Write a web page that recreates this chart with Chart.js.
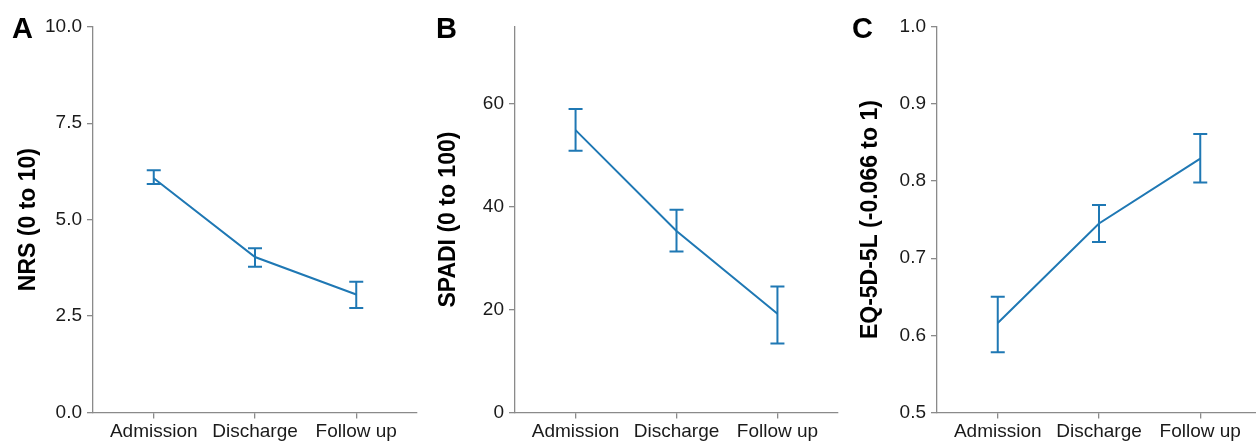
<!DOCTYPE html>
<html>
<head>
<meta charset="utf-8">
<script src="https://cdn.jsdelivr.net/npm/chart.js@4.4.1/dist/chart.umd.min.js"></script>
<style>
  html, body { margin: 0; padding: 0; background: #fff; overflow: hidden; width: 1256px; height: 441px; }
  .panel { position: absolute; top: 0; }
  .letter { position: absolute; font-family: "Liberation Sans", Arial, sans-serif; font-weight: bold; font-size: 29px; line-height: 29px; color: #000; }
</style>
</head>
<body>
<canvas id="cA" class="panel" width="420" height="441" style="left:0px"></canvas>
<canvas id="cB" class="panel" width="420" height="441" style="left:420px"></canvas>
<canvas id="cC" class="panel" width="421" height="441" style="left:840px"></canvas>
<div class="letter" style="left:12px; top:14px;">A</div>
<div class="letter" style="left:436px; top:14px;">B</div>
<div class="letter" style="left:852px; top:14px;">C</div>
<script>
// ---- data ----
const categories = ['Admission', 'Discharge', 'Follow up'];

const nrsMean  = [6.07, 4.03, 3.06];
const nrsLower = [5.92, 3.78, 2.71];
const nrsUpper = [6.28, 4.26, 3.39];
const nrsTicks = [0, 2.5, 5, 7.5, 10];

const spadiMean  = [54.9, 35.3, 19.2];
const spadiLower = [50.9, 31.3, 13.4];
const spadiUpper = [59.0, 39.4, 24.5];
const spadiTicks = [0, 20, 40, 60];

const eqMean  = [0.616, 0.745, 0.829];
const eqLower = [0.578, 0.721, 0.798];
const eqUpper = [0.650, 0.769, 0.861];
const eqTicks = [0.5, 0.6, 0.7, 0.8, 0.9, 1.0];

// ---- style ----
const BLUE = '#1f78b4';
const AXIS = '#8a8a8a';
const FONT = '"Liberation Sans", Arial, Helvetica, sans-serif';

const errorBars = {
  id: 'errorBars',
  afterDatasetsDraw(chart, args, opts) {
    const {ctx, scales: {x, y}} = chart;
    ctx.save();
    ctx.strokeStyle = BLUE;
    ctx.lineWidth = 2;
    opts.lower.forEach((lo, i) => {
      const px = x.getPixelForValue(i + 1);
      const yl = y.getPixelForValue(lo);
      const yu = y.getPixelForValue(opts.upper[i]);
      ctx.beginPath();
      ctx.moveTo(px, yl); ctx.lineTo(px, yu);
      ctx.moveTo(px - 7, yl); ctx.lineTo(px + 7, yl);
      ctx.moveTo(px - 7, yu); ctx.lineTo(px + 7, yu);
      ctx.stroke();
    });
    ctx.restore();
  }
};

function makeChart(id, cfg) {
  const canvas = document.getElementById(id);
  new Chart(canvas, {
    type: 'line',
    data: {
      datasets: [{
        data: cfg.mean.map((v, i) => ({x: i + 1, y: v})),
        borderColor: BLUE,
        borderWidth: 2,
        pointRadius: 0,
        tension: 0,
        fill: false
      }]
    },
    options: {
      responsive: false,
      animation: false,
      devicePixelRatio: 1,
      layout: { padding: { top: 26.7, right: cfg.padRight, bottom: 0, left: 0 } },
      plugins: {
        legend: { display: false },
        tooltip: { enabled: false },
        errorBars: { lower: cfg.lower, upper: cfg.upper }
      },
      scales: {
        x: {
          type: 'linear',
          min: 0.4,
          max: 3.6,
          afterBuildTicks: (s) => { s.ticks = categories.map((c, i) => ({value: i + 1})); },
          afterFit: (s) => { s.height = 28.5; },
          ticks: {
            callback: (v) => categories[Math.round(v) - 1],
            font: { family: FONT, size: 19 },
            color: '#1a1a1a',
            padding: 2,
            maxRotation: 0,
            autoSkip: false
          },
          grid: { drawOnChartArea: false, drawTicks: true, tickLength: 6, color: AXIS, lineWidth: 1.3 },
          border: { display: true, color: AXIS, width: 1.3 }
        },
        y: {
          min: cfg.min,
          max: cfg.max,
          afterBuildTicks: (s) => { s.ticks = cfg.ticks.map(v => ({value: v})); },
          afterFit: (s) => { s.width = cfg.axisW; },
          ticks: {
            callback: cfg.fmt,
            font: { family: FONT, size: 19 },
            color: '#1a1a1a',
            padding: 5
          },
          grid: { drawOnChartArea: false, drawTicks: true, tickLength: 6, color: AXIS, lineWidth: 1.3 },
          border: { display: true, color: AXIS, width: 1.3 },
          title: {
            display: true,
            text: cfg.title,
            font: { family: FONT, size: 23, weight: 'bold' },
            color: '#000',
            padding: { top: cfg.titlePad, bottom: 0 }
          }
        }
      }
    },
    plugins: [errorBars]
  });
}

makeChart('cA', { mean: nrsMean, lower: nrsLower, upper: nrsUpper, ticks: nrsTicks,
  min: 0, max: 10, fmt: (v) => v.toFixed(1), title: 'NRS (0 to 10)', axisW: 93, padRight: 3, titlePad: 15 });
makeChart('cB', { mean: spadiMean, lower: spadiLower, upper: spadiUpper, ticks: spadiTicks,
  min: 0, max: 75, fmt: (v) => String(v), title: 'SPADI (0 to 100)', axisW: 95, padRight: 2, titlePad: 15 });
makeChart('cC', { mean: eqMean, lower: eqLower, upper: eqUpper, ticks: eqTicks,
  min: 0.5, max: 1.0, fmt: (v) => v.toFixed(1), title: 'EQ-5D-5L (-0.066 to 1)', axisW: 97, padRight: 0, titlePad: 17 });
</script>
</body>
</html>
